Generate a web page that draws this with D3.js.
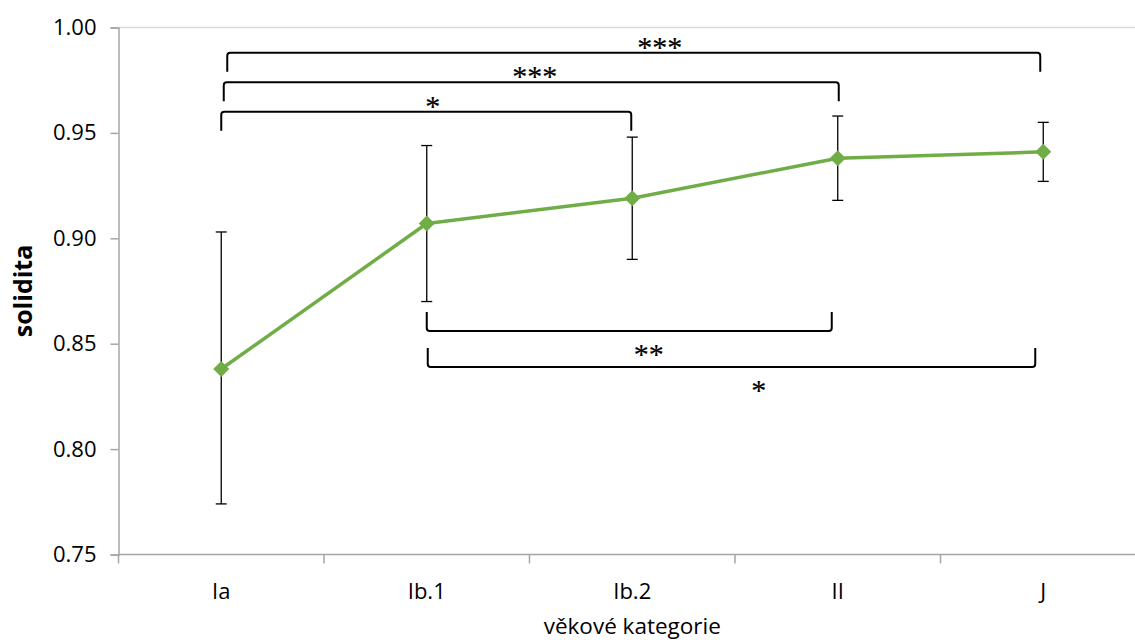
<!DOCTYPE html>
<html>
<head>
<meta charset="utf-8">
<script src="https://cdn.jsdelivr.net/npm/d3@7"></script>
<style>
  html, body { margin: 0; padding: 0; background: #fff; }
  svg { display: block; }
</style>
</head>
<body>
<svg id="chart" width="1135" height="642"></svg>
<script>
// Age categories and mean solidity with error bar limits
const categories = ["Ia", "Ib.1", "Ib.2", "II", "J"];
const means      = [0.838, 0.907, 0.919, 0.938, 0.941];
const errLow     = [0.774, 0.870, 0.890, 0.918, 0.927];
const errHigh    = [0.903, 0.944, 0.948, 0.958, 0.955];
const yTicks     = [0.75, 0.80, 0.85, 0.90, 0.95, 1.00];

// Significance brackets: pair of categories, level on the y scale,
// label and where the label sits (in category-index units)
const bracketFrom  = ["Ia", "Ia", "Ia", "Ib.1", "Ib.1"];
const bracketTo    = ["J", "II", "Ib.2", "II", "J"];
const bracketLevel = [0.988, 0.974, 0.960, 0.856, 0.839];
const bracketSide  = ["top", "top", "top", "bottom", "bottom"];
const bracketLabel = ["***", "***", "*", "**", "*"];
const bracketLabelAt = [2.134, 1.526, 1.029, 2.080, 2.616];

// small horizontal nudges of the bracket ends (px), purely cosmetic
const bracketNudgeFrom = [6, 2.5, 0, 0, 1];
const bracketNudgeTo   = [-3, 1, -1, -6, -8];

const svg = d3.select("#chart");
const plotLeft = 118.5, plotRight = 1146, plotTop = 27.5, plotBottom = 554.5;

const x = d3.scaleBand().domain(categories).range([plotLeft, plotRight]).padding(0);
const cx = c => x(c) + x.bandwidth() / 2;
const xi = d3.scaleLinear().domain([0, categories.length - 1])
  .range([cx(categories[0]), cx(categories[categories.length - 1])]);
const y = d3.scaleLinear().domain([0.75, 1.0]).range([plotBottom, plotTop]);

const axisColor = "#a6a6a6";
const font = "'Open Sans', 'Noto Sans', sans-serif";

// top border gridline at 1.00
svg.append("line")
  .attr("x1", plotLeft).attr("x2", 1135)
  .attr("y1", y(1.0)).attr("y2", y(1.0))
  .attr("stroke", "#d9d9d9").attr("stroke-width", 1.5);

// y axis
const yAxis = svg.append("g")
  .attr("transform", `translate(${plotLeft},0)`)
  .call(d3.axisLeft(y).tickValues(yTicks).tickFormat(d3.format(".2f")).tickSizeOuter(0).tickSize(8).tickPadding(14));
yAxis.select(".domain").attr("stroke", axisColor).attr("stroke-width", 1.5);
yAxis.selectAll(".tick line").attr("stroke", axisColor).attr("stroke-width", 1.5);
yAxis.selectAll(".tick text")
  .attr("font-family", font).attr("font-size", 22).attr("fill", "#000");

// x axis with ticks on category boundaries
const xAxisG = svg.append("g").attr("transform", `translate(0,${plotBottom})`);
xAxisG.append("line")
  .attr("x1", plotLeft).attr("x2", 1135).attr("y1", 0).attr("y2", 0)
  .attr("stroke", axisColor).attr("stroke-width", 1.5);
xAxisG.selectAll("line.tk")
  .data(categories)
  .join("line").attr("class", "tk")
  .attr("x1", d => x(d)).attr("x2", d => x(d))
  .attr("y1", 0).attr("y2", 9)
  .attr("stroke", axisColor).attr("stroke-width", 1.5);
xAxisG.selectAll("text")
  .data(categories)
  .join("text")
  .attr("x", d => cx(d)).attr("y", 44)
  .attr("text-anchor", "middle")
  .attr("font-family", font).attr("font-size", 22).attr("fill", "#000")
  .text(d => d);

// axis titles
svg.append("text")
  .attr("x", (plotLeft + plotRight) / 2).attr("y", 634)
  .attr("text-anchor", "middle")
  .attr("font-family", font).attr("font-size", 22.5).attr("fill", "#000")
  .text("věkové kategorie");
svg.append("text")
  .attr("transform", `translate(32,${(plotTop + plotBottom) / 2}) rotate(-90)`)
  .attr("text-anchor", "middle")
  .attr("font-family", font).attr("font-size", 25).attr("font-weight", "bold").attr("fill", "#000")
  .text("solidita");

// error bars
const eb = svg.append("g").attr("stroke", "#000").attr("stroke-width", 1.3);
categories.forEach((c, i) => {
  const px = cx(c);
  eb.append("line").attr("x1", px).attr("x2", px).attr("y1", y(errHigh[i])).attr("y2", y(errLow[i]));
  eb.append("line").attr("x1", px - 5.5).attr("x2", px + 5.5).attr("y1", y(errHigh[i])).attr("y2", y(errHigh[i]));
  eb.append("line").attr("x1", px - 5.5).attr("x2", px + 5.5).attr("y1", y(errLow[i])).attr("y2", y(errLow[i]));
});

// mean line and diamond markers
const pts = categories.map((c, i) => [cx(c), y(means[i])]);
svg.append("path")
  .attr("d", d3.line()(pts))
  .attr("fill", "none").attr("stroke", "#70ad47").attr("stroke-width", 3.5)
  .attr("stroke-linejoin", "round");
svg.selectAll("path.mk")
  .data(pts)
  .join("path").attr("class", "mk")
  .attr("transform", d => `translate(${d[0]},${d[1]})`)
  .attr("d", "M0,-8 L8,0 L0,8 L-8,0 Z")
  .attr("fill", "#70ad47");

// significance brackets
const leg = 19, r = 3;
const br = svg.append("g");
bracketFrom.forEach((f, i) => {
  const x1 = cx(f) + bracketNudgeFrom[i], x2 = cx(bracketTo[i]) + bracketNudgeTo[i];
  const h = y(bracketLevel[i]);
  const dir = bracketSide[i] === "top" ? 1 : -1;
  const e = h + dir * leg;
  const p = d3.path();
  p.moveTo(x1, e);
  p.lineTo(x1, h + dir * r);
  p.quadraticCurveTo(x1, h, x1 + r, h);
  p.lineTo(x2 - r, h);
  p.quadraticCurveTo(x2, h, x2, h + dir * r);
  p.lineTo(x2, e);
  br.append("path").attr("d", p.toString())
    .attr("fill", "none").attr("stroke", "#000").attr("stroke-width", 2);
  br.append("text")
    .attr("x", xi(bracketLabelAt[i]))
    .attr("y", bracketSide[i] === "top" ? h + 4 : h + 33)
    .attr("text-anchor", "middle")
    .attr("font-family", "'Liberation Serif', 'DejaVu Serif', serif")
    .attr("font-size", 30).attr("fill", "#000")
    .attr("stroke", "#000").attr("stroke-width", 0.2)
    .text(bracketLabel[i]);
});
</script>
</body>
</html>
